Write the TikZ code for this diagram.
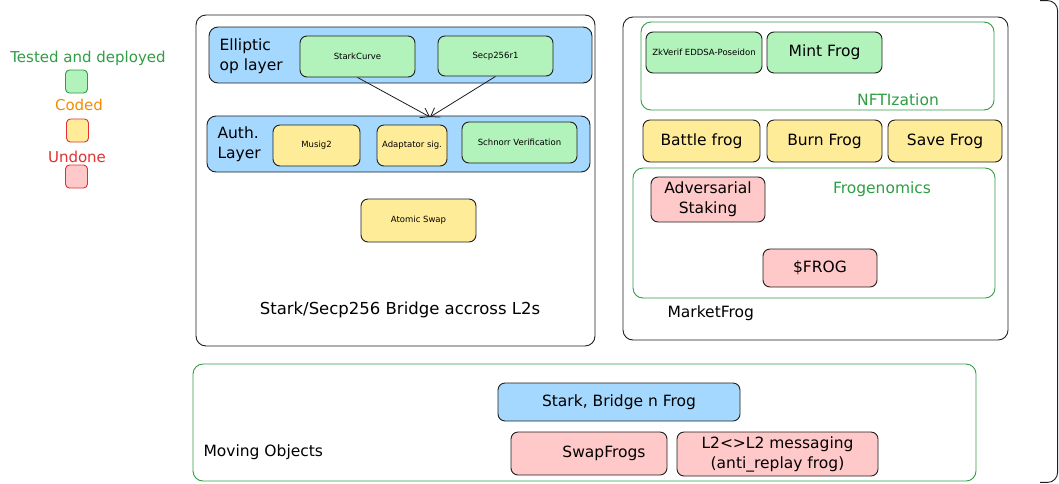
\documentclass[tikz,border=0pt]{standalone}
\usepackage{fontspec}
\setmainfont{DejaVu Sans}
\usetikzlibrary{arrows.meta}
\definecolor{frogInk}{HTML}{1E1E1E}
\definecolor{frogGreen}{HTML}{B2F2BB}
\definecolor{frogYellow}{HTML}{FFEC99}
\definecolor{frogPink}{HTML}{FFC9C9}
\definecolor{frogBlue}{HTML}{A5D8FF}
\definecolor{frogLine}{HTML}{2F9E44}
\definecolor{frogOrange}{HTML}{F08C00}
\definecolor{frogRed}{HTML}{E03131}
\tikzset{
  frogfig/.style={
    x=1pt, y=-1pt,
    every node/.append style={font=\fontsize{15.5}{20}\selectfont},
    >={Straight Barb[length=8pt, width=11pt]},
  },
  card/.style={
    draw=frogInk, line width=0.9pt, rounded corners=7pt,
    inner sep=0pt, align=center,
  },
  donecard/.style={card, fill=frogGreen},
  codedcard/.style={card, fill=frogYellow},
  undonecard/.style={card, fill=frogPink},
  layercard/.style={card, fill=frogBlue, rounded corners=9pt},
  frame/.style={draw=frogInk, line width=0.9pt, rounded corners=10pt, inner sep=0pt},
  groupframe/.style={frame, draw=frogLine},
  minilabel/.style={font=\fontsize{8.5}{10}\selectfont},
  % Legende: kleine Farbfelder
  swatch/.style={
    line width=0.9pt, rounded corners=4pt, inner sep=0pt,
    minimum width=22pt, minimum height=23pt,
  },
  legendtext/.style={font=\fontsize{15}{17}\selectfont},
  link/.style={draw=frogInk, line width=0.8pt, ->},
}

\begin{document}
\begin{tikzpicture}[frogfig]
  \useasboundingbox (0,0) rectangle (1059,483);
  \fill[white] (0,0) rectangle (1059,483);

  % Legende
  \node[legendtext, text=frogLine] (legDone) at (88,58) {Tested and deployed};
  \node[swatch, draw=frogLine, fill=frogGreen] (swDone) at (76.5,81.5) {};
  \node[legendtext, text=frogOrange] (legCoded) at (79,105) {Coded};
  \node[swatch, draw=frogRed, fill=frogYellow] (swCoded) at (77.5,130.5) {};
  \node[legendtext, text=frogRed] (legUndone) at (77,157) {Undone};
  \node[swatch, draw=frogRed, fill=frogPink] (swUndone) at (76.5,176.5) {};

  % Bridge
  \node[frame, minimum width=399pt, minimum height=331pt] (bridgeBox) at (395.5,180.5) {};
  \node[layercard, minimum width=383pt, minimum height=56pt] (ellipticLayer) at (400.5,55) {};
  \node[anchor=west, align=left] (ellipticLabel) at (216,56) {Elliptic\\op layer};
  \node[donecard, minilabel, minimum width=115pt, minimum height=41pt] (starkCurve) at (357.5,56.5) {StarkCurve};
  \node[donecard, minilabel, minimum width=115pt, minimum height=40pt] (secpCurve) at (495.5,56) {Secp256r1};
  \node[layercard, minimum width=383pt, minimum height=56pt] (authLayer) at (398.5,144) {};
  \node[anchor=west, align=left] (authLabel) at (214,144) {Auth.\\Layer};
  \node[codedcard, minilabel, minimum width=87pt, minimum height=41pt] (musig) at (316.5,145.5) {Musig2};
  \node[codedcard, minilabel, minimum width=70pt, minimum height=41pt] (adaptator) at (412,145.5) {Adaptator sig.};
  \node[donecard, minilabel, minimum width=115pt, minimum height=41pt] (schnorr) at (519.5,142.5) {Schnorr Verification};
  \node[codedcard, minilabel, minimum width=115pt, minimum height=43pt] (atomicSwap) at (418.5,220.5) {Atomic Swap};
  \node[font=\fontsize{16.5}{20}\selectfont] (bridgeLabel) at (400,310) {Stark/Secp256 Bridge accross L2s};
  \coordinate (authIn) at (430,117);
  \draw[link] (starkCurve.south) -- (authIn);
  \draw[link] (secpCurve.south) -- (authIn);

  % MarketFrog
  \node[frame, minimum width=385pt, minimum height=323pt] (marketBox) at (815.5,178.5) {};
  \node[groupframe, minimum width=353pt, minimum height=88pt] (nftBox) at (817.5,66) {};
  \node[donecard, minilabel, minimum width=116pt, minimum height=41pt] (zkVerif) at (704,52.5) {ZkVerif EDDSA-Poseidon};
  \node[donecard, minimum width=115pt, minimum height=41pt] (mintFrog) at (824.5,52.5) {Mint Frog};
  \node[text=frogLine] (nftLabel) at (898,100) {NFTIzation};
  \node[codedcard, minimum width=117pt, minimum height=42pt] (battleFrog) at (701.5,141) {Battle frog};
  \node[codedcard, minimum width=115pt, minimum height=42pt] (burnFrog) at (824.5,141) {Burn Frog};
  \node[codedcard, minimum width=114pt, minimum height=42pt] (saveFrog) at (945,141) {Save Frog};
  \node[groupframe, minimum width=362pt, minimum height=130pt] (frogenomicsBox) at (814,233) {};
  \node[undonecard, minimum width=114pt, minimum height=45pt] (adversarial) at (708,199.5) {Adversarial\\Staking};
  \node[text=frogLine] (frogenomicsLabel) at (882,189) {Frogenomics};
  \node[undonecard, minimum width=114pt, minimum height=38pt] (frogToken) at (820,268) {\$FROG};
  \node[anchor=west] (marketLabel) at (664,313) {MarketFrog};

  % Moving Objects
  \node[groupframe, minimum width=783pt, minimum height=117pt] (movingBox) at (584.5,422.5) {};
  \node[layercard, rounded corners=7pt, minimum width=242pt, minimum height=38pt] (starkBridgeFrog) at (619,402) {Stark, Bridge n Frog};
  \node[undonecard, minimum width=156pt, minimum height=43pt] (swapFrogs) at (589,453.5) {\hspace*{30pt}SwapFrogs};
  \node[undonecard, minimum width=201pt, minimum height=44pt] (l2Msg) at (777.5,454) {L2<>L2 messaging\\(anti\_replay frog)};
  \node[anchor=west] (movingLabel) at (200,452) {Moving Objects};

  % Rand eines weiteren Rahmens, rechts angeschnitten
  \draw[frogInk, line width=0.9pt, rounded corners=10pt]
    (1040,0.6) -- (1057.6,0.6) -- (1057.6,482.4) -- (1040,482.4);
\end{tikzpicture}
\end{document}
